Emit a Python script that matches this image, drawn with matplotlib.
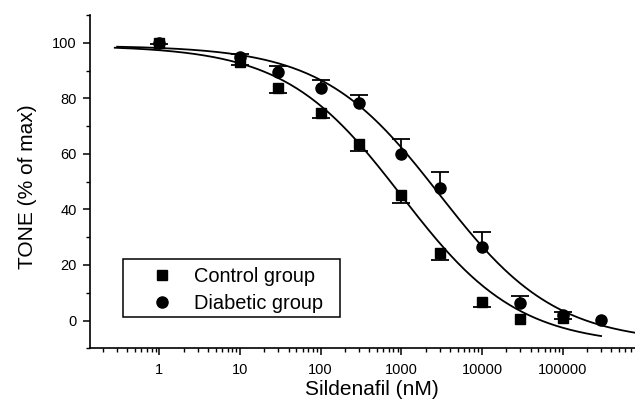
import numpy as np
import matplotlib
matplotlib.use("Agg")
import matplotlib.pyplot as plt
from matplotlib.ticker import FixedLocator, FixedFormatter, MultipleLocator
from matplotlib.patches import Rectangle

plt.rcParams['font.family'] = ['Liberation Sans', 'DejaVu Sans']

# ---- data ----
conc_control = [1, 10, 30, 100, 300, 1000, 3000, 10000, 30000, 100000]
tone_control = [100, 93.2, 83.6, 74.8, 63.6, 45.3, 24.2, 6.8, 0.4, 0.9]
err_control = [0.5, 1.2, 1.6, 2.0, 2.6, 3.0, 2.4, 1.8, 0.0, 0.5]

conc_diabetic = [1, 10, 30, 100, 300, 1000, 3000, 10000, 30000, 100000, 300000]
tone_diabetic = [100, 94.7, 89.6, 83.8, 78.2, 59.8, 47.6, 26.6, 6.3, 2.0, 0.3]
err_diabetic = [0.0, 1.1, 2.0, 2.8, 3.0, 5.4, 5.8, 5.4, 2.6, 0.9, 0.0]

# sigmoidal fit parameters: top, bottom, log10 EC50, Hill slope
fit_control = [99, -9, 3.0, 0.6]
fit_diabetic = [99, -8, 3.47, 0.6]
fit_range_control = [0.28, 300000]
fit_range_diabetic = [0.3, 1000000]

x_ticks = [1, 10, 100, 1000, 10000, 100000]
x_tick_labels = ["1", "10", "100", "1000", "10000", "100000"]
y_ticks = [0, 20, 40, 60, 80, 100]
labels = ["Control group", "Diabetic group"]


def hill(x, p):
    top, bottom, logec, h = p
    return bottom + (top - bottom) / (1 + 10 ** ((np.log10(x) - logec) * h))


fig = plt.figure(figsize=(6.35, 4.05), dpi=100)
ax = fig.add_axes([0.1425, 0.140, 0.8575, 0.823])

xc = np.logspace(np.log10(fit_range_control[0]), np.log10(fit_range_control[1]), 300)
xd = np.logspace(np.log10(fit_range_diabetic[0]), np.log10(fit_range_diabetic[1]), 300)
ax.plot(xc, hill(xc, fit_control), color='black', lw=1.3, zorder=2)
ax.plot(xd, hill(xd, fit_diabetic), color='black', lw=1.3, zorder=2)


def one_sided(x, y, e, sign, z):
    x = np.asarray(x, float)
    y = np.asarray(y, float)
    e = np.asarray(e, float)
    m = e > 0
    end = y + sign * e
    ax.vlines(x[m], y[m], end[m], color='black', lw=1.3, zorder=z)
    ax.plot(x[m], end[m], linestyle='none', marker='_', ms=13.6, mew=1.3,
            color='black', zorder=z)


one_sided(conc_diabetic, tone_diabetic, err_diabetic, +1, 3)
one_sided(conc_control, tone_control, err_control, -1, 3)
hd, = ax.plot(conc_diabetic, tone_diabetic, 'o', color='black', ms=8, zorder=4)
hc, = ax.plot(conc_control, tone_control, 's', color='black', ms=7.2, zorder=5)

ax.set_xscale('log')
ax.set_xlim(0.14, 7.9e5)
ax.set_ylim(-10, 110)

ax.xaxis.set_major_locator(FixedLocator(x_ticks))
ax.xaxis.set_major_formatter(FixedFormatter(x_tick_labels))
ax.yaxis.set_major_locator(FixedLocator(y_ticks))
ax.yaxis.set_minor_locator(MultipleLocator(10))

for s in ['top', 'right']:
    ax.spines[s].set_visible(False)
for s in ['left', 'bottom']:
    ax.spines[s].set_linewidth(1.2)

ax.tick_params(which='major', direction='out', length=5, width=1.1,
               labelsize=10.5, pad=5)
ax.tick_params(which='minor', direction='out', length=3, width=1.0)
ax.tick_params(axis='x', which='major', pad=5.5)

ax.set_xlabel("Sildenafil (nM)", fontsize=15)
ax.set_ylabel("TONE (% of max)", fontsize=15)
ax.xaxis.set_label_coords(0.516, -0.095)
ax.yaxis.set_label_coords(-0.0988, 0.485)

leg = ax.legend([hc, hd], labels, loc='upper left',
                bbox_to_anchor=(0.095, 0.245), frameon=False, fontsize=14.4,
                handlelength=2.0, handletextpad=0.6, labelspacing=0.43,
                borderpad=0, borderaxespad=0)
# legend frame
ax.add_patch(Rectangle((0.059, 0.093), 0.399, 0.174, transform=ax.transAxes,
                       fill=False, edgecolor='black', lw=1.1, zorder=5))

fig.savefig("out.png", dpi=100)
